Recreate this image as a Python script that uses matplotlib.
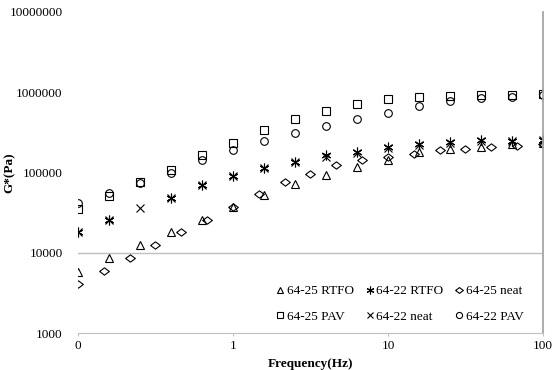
import numpy as np
import matplotlib
matplotlib.use('Agg')
import matplotlib.pyplot as plt

plt.rcParams['font.family'] = ['Liberation Serif', 'DejaVu Serif']

# Frequencies (Hz)
freq = [0.1, 0.158, 0.251, 0.398, 0.631, 1, 1.585, 2.512, 3.981, 6.31,
        10, 15.85, 25.12, 39.81, 63.1, 100]
freq_neat25 = [0.1, 0.147, 0.215, 0.316, 0.464, 0.681, 1, 1.468, 2.154, 3.162,
               4.642, 6.813, 10, 14.68, 21.54, 31.62, 46.42, 68.13, 100]

# G* values (Pa)
rtfo_6425 = [5780, 8490, 12400, 17900, 25900, 37200, 52000, 71300, 92200, 117000,
             142000, 178000, 198000, 209000, 224000, 230000]
rtfo_6422 = [18000, 25900, np.nan, 48700, 69300, 89800, 113000, 135000, 164000, 180000,
             207000, 224000, 240000, 251000, 244000, 251000]
neat_6425 = [4060, 5960, 8490, 12400, 17900, 25900, 37200, 53600, 76200, 96900,
             123000, 142000, 155000, 172000, 189000, 198000, 209000, 212000, 225000]
pav_6425 = [34800, 50600, 76200, 106000, 164000, 231000, 335000, 459000, 577000, 711000,
            820000, 869000, 895000, 912000, 931000, 940000]
neat_6422 = [18000, 25900, 35600, 48700, 69300, 89800, 113000, 135000, 158000, 175000,
             200000, 218000, 235000, 248000, 244000, 251000]
pav_6422 = [41400, 56000, 75000, 100000, 142000, 189000, 244000, 308000, 378000, 468000,
            556000, 665000, 775000, 845000, 869000, 912000]

xtick_vals = [0.1, 1, 10, 100]
xtick_labels = ['0', '1', '10', '100']
ytick_vals = [1000, 10000, 100000, 1000000, 10000000]
ytick_labels = ['1000', '10000', '100000', '1000000', '10000000']

fig = plt.figure(figsize=(5.57, 3.70), dpi=100)
ax = fig.add_axes([78/557, 1-333/370, (543-78)/557, (333-12)/370])

wide_diamond = [(-1, 0), (0, 0.75), (1, 0), (0, -0.75), (-1, 0)]
common = dict(linestyle='none', color='black', mfc='none', mew=0.8)

h1, = ax.plot(freq, rtfo_6425, marker='^', ms=6, label='64-25 RTFO', **common)
h2, = ax.plot(freq, rtfo_6422, marker=(6, 2, 0), ms=7, label='64-22 RTFO', **common)
h3, = ax.plot(freq_neat25, neat_6425, marker=wide_diamond, ms=7, label='64-25 neat', **common)
h4, = ax.plot(freq, pav_6425, marker='s', ms=5.5, label='64-25 PAV', **common)
h5, = ax.plot(freq, neat_6422, marker='x', ms=6, label='64-22 neat', **common)
h6, = ax.plot(freq, pav_6422, marker='o', ms=5.5, label='64-22 PAV', **common)

ax.set_xscale('log')
ax.set_yscale('log')
ax.set_xlim(0.1, 100)
ax.set_ylim(1000, 10000000)

ax.axhline(10000, color='#bfbfbf', lw=1, zorder=0)

ax.set_xticks(xtick_vals)
ax.set_xticklabels(xtick_labels, fontsize=9.5)
ax.set_yticks(ytick_vals)
ax.set_yticklabels(ytick_labels, fontsize=9.5)
ax.minorticks_off()
ax.tick_params(axis='y', length=0, pad=11)
ax.tick_params(axis='x', length=2, color='#bfbfbf', pad=3)

for side in ['left', 'top']:
    ax.spines[side].set_visible(False)
ax.spines['bottom'].set_color('#bfbfbf')
ax.spines['right'].set_color('#a6a6a6')
ax.spines['right'].set_linewidth(1.3)

ax.set_xlabel('Frequency(Hz)', fontsize=9.5, fontweight='bold', labelpad=4)
ax.set_ylabel('G*(Pa)', fontsize=9.5, fontweight='bold', labelpad=0)
ax.yaxis.set_label_coords(-0.135, 0.5)

leg = ax.legend([h1, h4, h2, h5, h3, h6],
                ['64-25 RTFO', '64-25 PAV', '64-22 RTFO', '64-22 neat', '64-25 neat', '64-22 PAV'],
                ncol=3, loc='center', bbox_to_anchor=(400/557, 1-304/370),
                bbox_transform=fig.transFigure, frameon=False, fontsize=9.5,
                handlelength=0.6, handletextpad=0.2, columnspacing=0.9, labelspacing=1.0,
                markerscale=0.8)

fig.savefig('out.png', dpi=100)
